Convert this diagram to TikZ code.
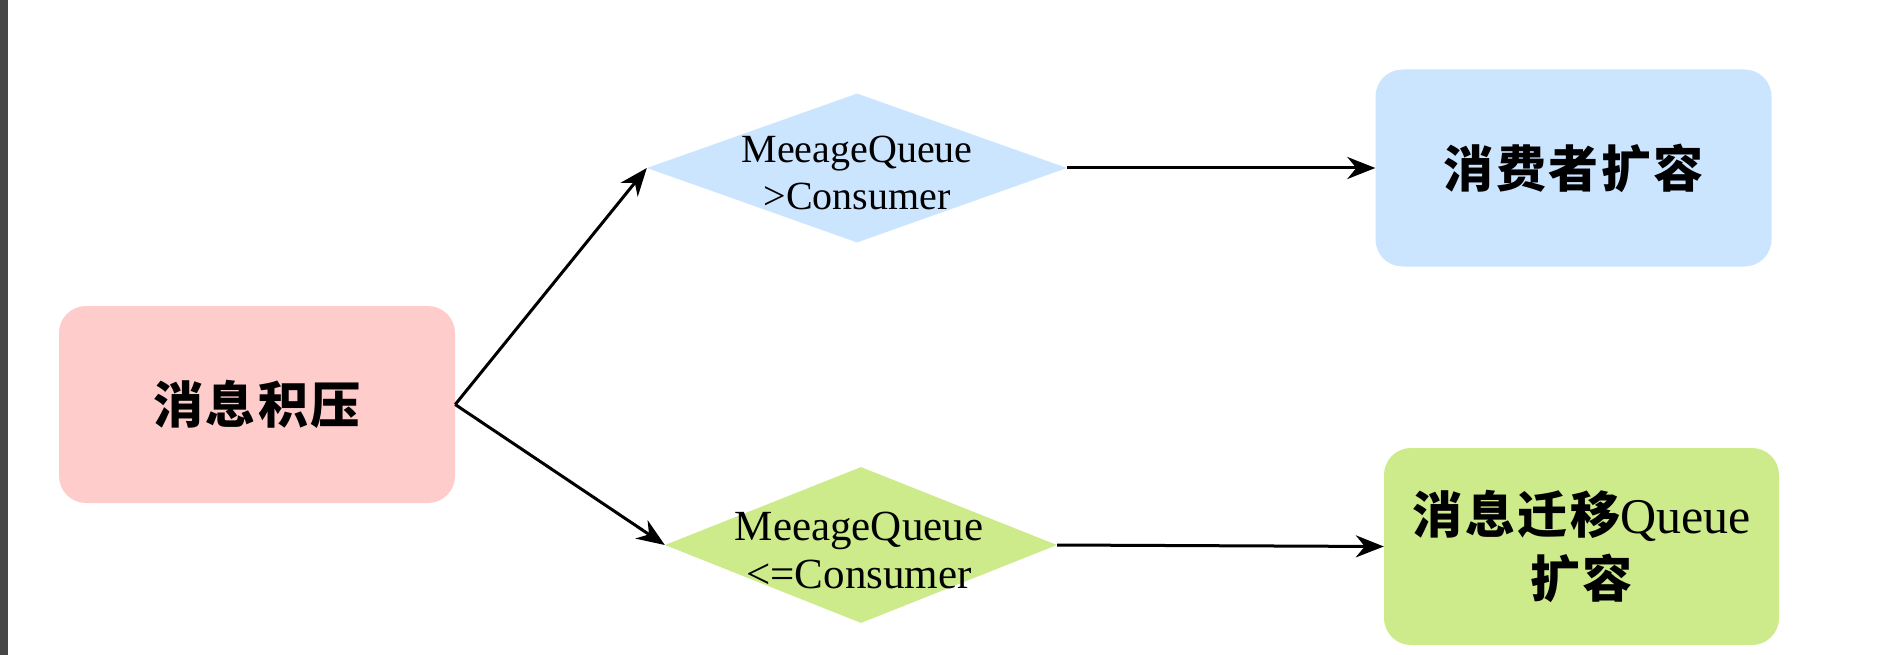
\documentclass[tikz,border=0pt]{standalone}
\usepackage{fontspec}
\setmainfont{Liberation Serif}
\newfontfamily\cjk{Noto Sans CJK SC}[LetterSpace=5]
\usetikzlibrary{shapes.geometric,arrows.meta}
\definecolor{pinkc}{HTML}{FFCCCC}
\definecolor{bluec}{HTML}{CCE5FF}
\definecolor{greenc}{HTML}{CDEB8B}
\definecolor{stripc}{HTML}{464646}
\tikzset{
  x=1pt, y=-1pt,
  box/.style={rectangle, rounded corners=27pt, draw=none, inner sep=0pt, align=center,
    minimum width=396pt, minimum height=197pt,
    font=\cjk\bfseries\fontsize{50}{64}\selectfont},
  dia/.style={diamond, draw=none, inner sep=0pt},
  dtext/.style={inner sep=0pt, align=center},
  arr/.style={draw=black, line width=3pt, -{Stealth[length=28pt,width=22pt,inset=9pt]}},
}
\begin{document}
\begin{tikzpicture}
\useasboundingbox (0,0) rectangle (1886,655);
\fill[white] (0,0) rectangle (1886,655);
\fill[stripc] (0,0) rectangle (8,655);

\node[box, fill=pinkc] (src) at (257,404.5) {消息积压};
\node[box, fill=bluec] (b1) at (1573.5,168) {消费者扩容};
\node[box, fill=greenc, minimum width=395pt] (b2) at (1581.5,546.5) {消息迁移{\rmfamily\mdseries Queue}\\扩容};

\node[dia, fill=bluec, minimum width=420pt, minimum height=149pt] (d1) at (857,168) {};
\node[dia, fill=greenc, minimum width=392pt, minimum height=156pt] (d2) at (861,545) {};

\node[dtext, font=\fontsize{40}{47}\selectfont] (t1) at (857,173) {MeeageQueue\\>Consumer};
\node[dtext, font=\fontsize{43}{48}\selectfont] (t2) at (859,550) {MeeageQueue\\<=Consumer};

\draw[arr] (src.east) -- (d1.west);
\draw[arr] (src.east) -- (d2.west);
\draw[arr] (d1.east) -- (b1.west);
\draw[arr] (d2.east) -- (b2.west);
\end{tikzpicture}
\end{document}
